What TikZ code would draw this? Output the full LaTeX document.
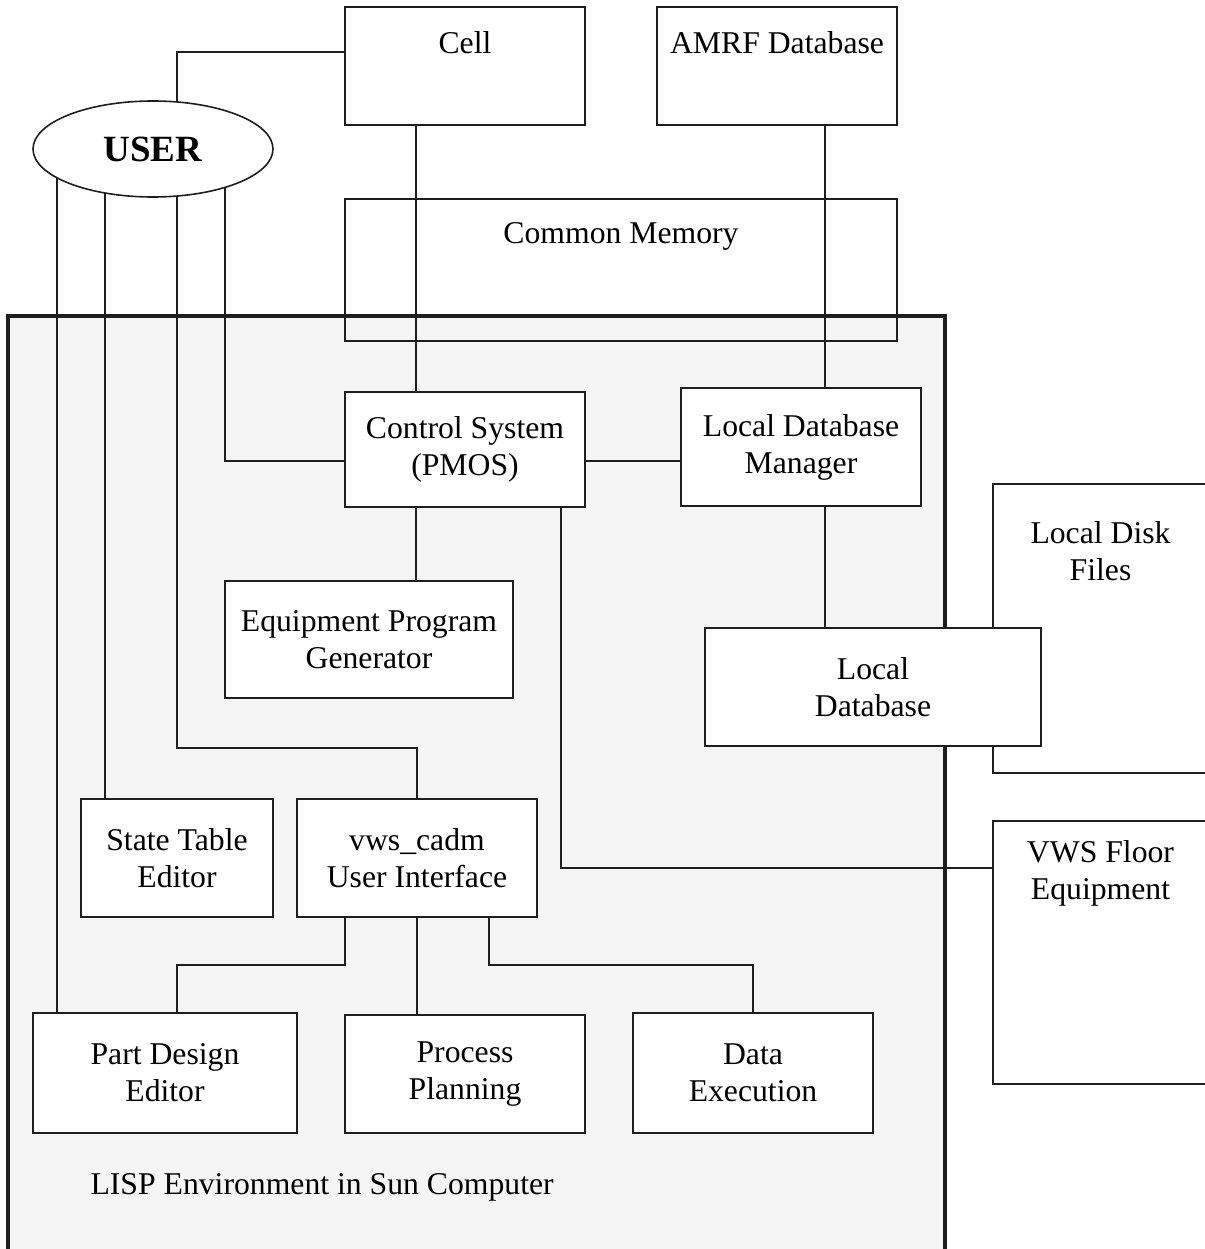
\documentclass[tikz,border=0pt]{standalone}
\usepackage{fontspec}
\setmainfont{Liberation Serif}
\usetikzlibrary{shapes.geometric}
\pgfdeclarelayer{bg}
\pgfdeclarelayer{ln}
\pgfsetlayers{bg,ln,main}
\definecolor{lispfill}{HTML}{F5F5F5}
\definecolor{ink}{HTML}{1E1E1E}
\begin{document}
\begin{tikzpicture}[x=1pt,y=-1pt,
  every node/.style={font=\fontsize{31.7}{37}\selectfont},
  box/.style={draw=ink,line width=2pt,fill=white,rectangle,align=center,inner sep=0pt},
  obox/.style={draw=ink,line width=2pt,rectangle,inner sep=0pt},
  inlbl/.style={anchor=center,align=center},
  conn/.style={draw=ink,line width=2pt}]
\useasboundingbox (0,0) rectangle (1204,1249);

% outer LISP environment
\begin{pgfonlayer}{bg}
\node[draw=ink,line width=3.5pt,fill=lispfill,rectangle,inner sep=0pt,
      minimum width=937pt,minimum height=948pt] (lisp) at (476.5,790) {};
\end{pgfonlayer}
\node[anchor=west] (lisplbl) at (87,1187) {LISP Environment in Sun Computer};

% top boxes
\node[box,minimum width=240pt,minimum height=118pt,
      label={[inlbl,yshift=-37pt]north:Cell}] (cell) at (465,66) {};
\node[box,minimum width=240pt,minimum height=118pt,
      label={[inlbl,yshift=-37pt]north:AMRF Database}] (amrf) at (777,66) {};
\node[obox,minimum width=552pt,minimum height=142pt,
      label={[inlbl,yshift=-38pt]north:Common Memory}] (mem) at (621,270) {};

% user
\node[draw=ink,line width=1.6pt,fill=white,ellipse,inner sep=0pt,
      minimum width=240pt,minimum height=96pt,
      font=\fontsize{37}{40}\selectfont\bfseries] (user) at (153,149) {USER};

% inner boxes
\node[box,minimum width=240pt,minimum height=115pt] (ctrl) at (465,449.5) {Control System\\(PMOS)};
\node[box,minimum width=240pt,minimum height=118pt] (ldm) at (801,447) {Local Database\\Manager};
\node[box,minimum width=288pt,minimum height=117pt] (epg) at (369,639.5) {Equipment Program\\Generator};
\node[obox,minimum width=237pt,minimum height=289pt,
      label={[inlbl,yshift=-68.5pt,xshift=-11pt]north:{Local Disk\\Files}}] (ldf) at (1111.5,628.5) {};
\node[box,minimum width=336pt,minimum height=118pt] (ldb) at (873,687) {Local\\Database};
\node[box,minimum width=192pt,minimum height=118pt] (ste) at (177,858) {State Table\\Editor};
\node[box,minimum width=240pt,minimum height=118pt] (vws) at (417,858) {vws\_cadm\\User Interface};
\node[obox,minimum width=237pt,minimum height=263pt,
      label={[inlbl,yshift=-53.5pt,xshift=-11pt]north:{VWS Floor\\Equipment}}] (floor) at (1111.5,952.5) {};
\node[box,minimum width=264pt,minimum height=120pt] (pde) at (165,1073) {Part Design\\Editor};
\node[box,minimum width=240pt,minimum height=118pt] (pp) at (465,1074) {Process\\Planning};
\node[box,minimum width=240pt,minimum height=120pt] (de) at (753,1073) {Data\\Execution};

% connector helper coordinates
\coordinate (u1) at (57,149);
\coordinate (u2) at (105,149);
\coordinate (u3) at (177,149);
\coordinate (u4) at (224.6,149);
\coordinate (ctop) at ([yshift=-46pt]cell.north west);
\coordinate (cx) at ([xshift=-49pt]cell.south);
\coordinate (ax) at ([xshift=48pt]amrf.south);
\coordinate (cw) at ([yshift=-11.2pt]ctrl.west);
\coordinate (cx2) at ([xshift=96pt]ctrl.south);
\coordinate (fw) at ([yshift=-48pt]floor.north west);
\coordinate (vb) at (177,748);
\coordinate (hy) at (0,965);
\coordinate (v1) at ([xshift=-72pt]vws.south);
\coordinate (v3) at ([xshift=72pt]vws.south);
\coordinate (pdt) at ([xshift=11.6pt]pde.north);

\begin{pgfonlayer}{ln}
\draw[conn] (u3) |- (ctop);
\draw[conn] (cx) -- (cx |- ctrl.north);
\draw[conn] (cx |- ctrl.south) -- (cx |- epg.north);
\draw[conn] (ax) -- (ax |- ldm.north);
\draw[conn] (ax |- ldm.south) -- (ax |- ldb.north);
\draw[conn] (u4) |- (cw);
\draw[conn] (cw -| ctrl.east) -- (cw -| ldm.west);
\draw[conn] (cx2) |- (fw);
\draw[conn] (u3) -- (vb) -| (vws.north);
\draw[conn] (u2) -- (u2 |- ste.north);
\draw[conn] (u1) -- (u1 |- pde.north);
\draw[conn] (v1) -- (v1 |- hy) -| (pdt);
\draw[conn] (vws.south) -- (vws.south |- pp.north);
\draw[conn] (v3) -- (v3 |- hy) -| (de.north);
\end{pgfonlayer}
\end{tikzpicture}
\end{document}
